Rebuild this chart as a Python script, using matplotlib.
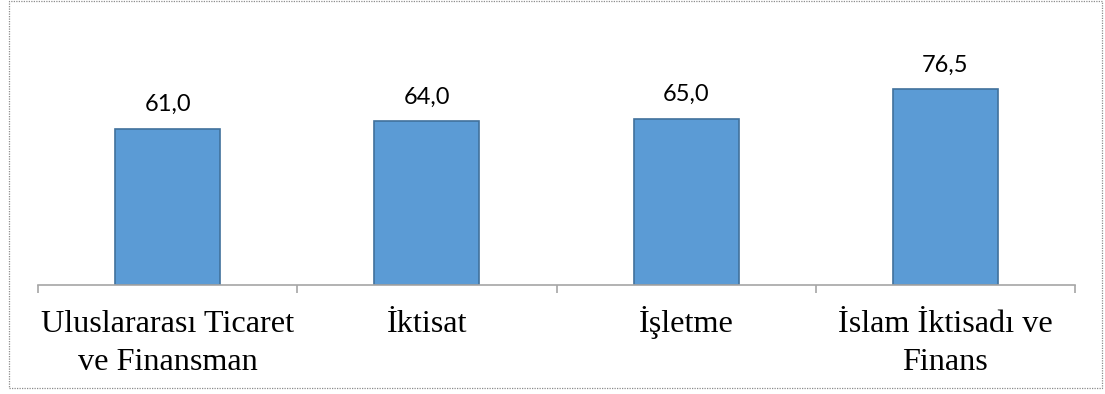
import matplotlib
matplotlib.use("Agg")
import matplotlib.pyplot as plt
from matplotlib.patches import Rectangle

categories = ["Uluslararası Ticaret\nve Finansman", "İktisat", "İşletme", "İslam İktisadı ve\nFinans"]
values = [61.0, 64.0, 65.0, 76.5]
value_labels = ["61,0", "64,0", "65,0", "76,5"]

W, H = 1105, 394
fig = plt.figure(figsize=(W / 100, H / 100), dpi=100)
fig.patch.set_facecolor("white")

left, right, base, top = 38, 1075, 285, 55
ax = fig.add_axes([left / W, (H - base) / H, (right - left) / W, (base - top) / H])

x = list(range(len(categories)))
ax.bar(x, values, width=0.405, color="#5B9BD5", edgecolor="#41719C", linewidth=1.2, zorder=2)

for xi, v, lab in zip(x, values, value_labels):
    ax.annotate(lab, (xi, v), xytext=(0, 18), textcoords="offset pixels",
                ha="center", va="baseline", fontsize=17, family="Lato", color="black")

ax.set_xlim(-0.5, len(categories) - 0.5)
ax.set_ylim(0, 90)

for s in ["top", "right", "left"]:
    ax.spines[s].set_visible(False)
ax.spines["bottom"].set_color("#A6A6A6")
ax.spines["bottom"].set_linewidth(1.2)
ax.set_yticks([])

# boundary ticks between categories
ax.set_xticks([i - 0.5 for i in range(len(categories) + 1)])
ax.set_xticklabels([])
ax.tick_params(axis="x", which="major", length=6, width=1.2, color="#A6A6A6", direction="out")

# category names, one text per line, baselines 47 px and 85 px below the axis
for xi, name in zip(x, categories):
    for k, line in enumerate(name.split("\n")):
        ax.annotate(line, (xi, 0), xytext=(0, -(47 + 38 * k)), textcoords="offset pixels",
                    ha="center", va="baseline", fontsize=23.2, family="Liberation Serif",
                    color="black", annotation_clip=False)

fig.add_artist(Rectangle((8.5 / W, (H - 388) / H), (1101.5 - 8.5) / W, (388 - 1) / H,
                         transform=fig.transFigure, fill=False, edgecolor="#8C8C8C",
                         linestyle=(0, (1, 1)), linewidth=0.9))

fig.savefig("out.png", dpi=100, facecolor="white")
